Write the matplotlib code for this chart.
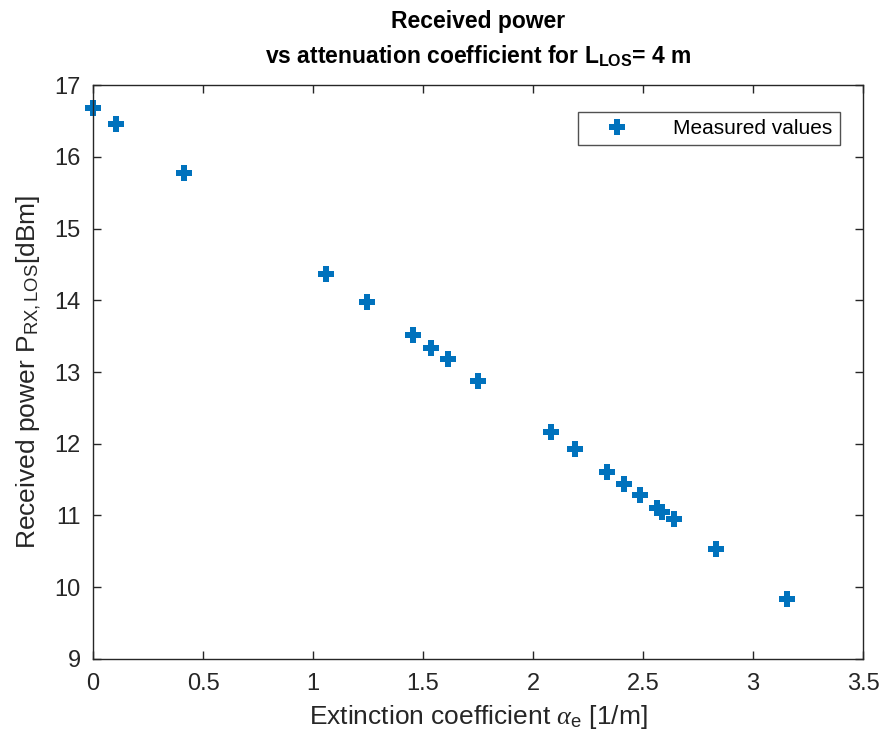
import numpy as np
import matplotlib.pyplot as plt

plt.rcParams['font.family'] = ['Liberation Sans', 'DejaVu Sans']
plt.rcParams['mathtext.fontset'] = 'custom'
plt.rcParams['mathtext.rm'] = 'Liberation Sans'
plt.rcParams['mathtext.bf'] = 'Liberation Sans:bold'
plt.rcParams['mathtext.it'] = 'Liberation Serif:italic'

alpha_e = [0.0, 0.105, 0.414, 1.059, 1.245, 1.455, 1.536, 1.614, 1.750,
           2.080, 2.190, 2.336, 2.414, 2.486, 2.564, 2.586, 2.640, 2.830, 3.155]
p_rx = [16.68, 16.45, 15.77, 14.37, 13.97, 13.52, 13.34, 13.18, 12.88,
        12.16, 11.92, 11.61, 11.44, 11.29, 11.10, 11.05, 10.95, 10.53, 9.84]

fig = plt.figure(figsize=(8.81, 7.42), dpi=100)
ax = fig.add_axes([0.1056, 0.1119, 0.874, 0.7735])

ax.plot(alpha_e, p_rx, 'P', color='#0072BD', markersize=11,
        markeredgewidth=0, label='Measured values', clip_on=False)

ax.set_xlim(0, 3.5)
ax.set_ylim(9, 17)
ax.set_xticks(np.arange(0, 3.51, 0.5))
ax.set_xticklabels(['0', '0.5', '1', '1.5', '2', '2.5', '3', '3.5'])
ax.set_yticks(np.arange(9, 18, 1))
ax.tick_params(direction='in', top=True, right=True, labelsize=17,
               length=6, width=1, colors='#262626', labelcolor='#262626')
ax.tick_params(axis='x', pad=10)
ax.tick_params(axis='y', pad=9)
for s in ax.spines.values():
    s.set_color('#262626')
    s.set_linewidth(1)

ax.set_xlabel(r'Extinction coefficient $\alpha_{\mathrm{e}}$ [1/m]', fontsize=19,
              color='#262626', labelpad=6)
ax.set_ylabel(r'Received power P$_{\mathrm{RX,LOS}}$[dBm]', fontsize=19,
              color='#262626', labelpad=8)
ax.set_title('Received power\n' + r'vs attenuation coefficient for L$_{\mathbf{LOS}}$= 4 m',
             fontsize=16.5, fontweight='bold', linespacing=1.55, pad=15)

leg = ax.legend(loc='upper right', fontsize=15, frameon=True, fancybox=False,
                edgecolor='#262626', borderpad=0.35, handlelength=3.0,
                handletextpad=1.2, bbox_to_anchor=(0.983, 0.972))
leg.get_frame().set_linewidth(1)

fig.savefig('out.png', dpi=100)
